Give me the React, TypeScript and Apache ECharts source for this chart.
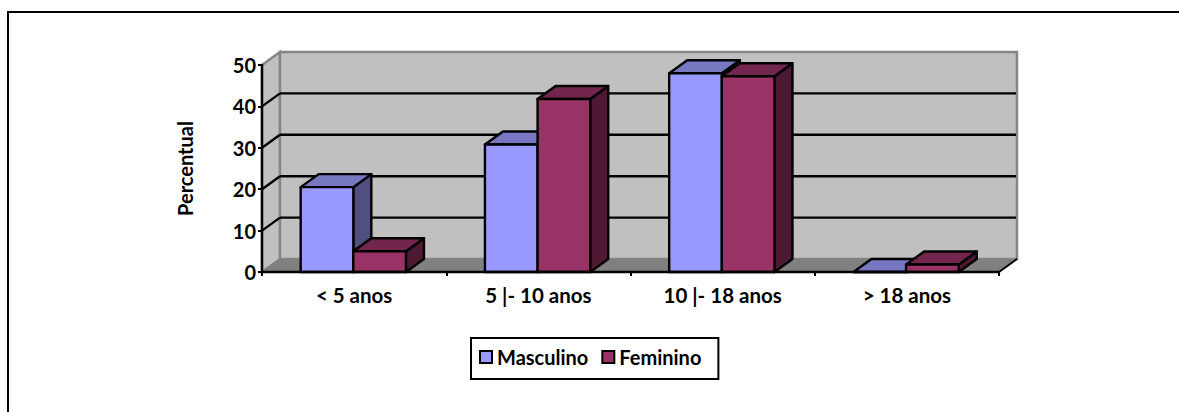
import React, { useEffect, useRef } from "react";
import * as echarts from "echarts";

const categories = ["< 5 anos", "5 |- 10 anos", "10 |- 18 anos", "> 18 anos"];
const masculino = [20.5, 30.8, 48, 0];
const feminino = [5, 41.8, 47.3, 1.8];
const yTicks = [0, 10, 20, 30, 40, 50];

const FONT = "Lato";
const DEPTH_X = 18;
const DEPTH_Y = -13;
const BAR_SHARE = 0.2857;
const BAR_NUDGE = -0.8;
const INK = 2.4;

// Back wall, side wall, floor and wall gridlines of the pseudo-3D plot box.
function renderWalls(params: any, api: any) {
  const r = params.coordSys;
  const l = r.x, t = r.y, b = r.y + r.height, e = r.x + r.width;
  const wallFill = { fill: "#c0c0c0", stroke: "#868686", lineWidth: 2.5 };
  const children: any[] = [
    {
      type: "polygon",
      shape: { points: [[l, t], [l + DEPTH_X, t + DEPTH_Y], [l + DEPTH_X, b + DEPTH_Y], [l, b]] },
      style: wallFill,
    },
    {
      type: "polygon",
      shape: { points: [[l + DEPTH_X, t + DEPTH_Y], [e + DEPTH_X, t + DEPTH_Y], [e + DEPTH_X, b + DEPTH_Y], [l + DEPTH_X, b + DEPTH_Y]] },
      style: wallFill,
    },
    {
      type: "polygon",
      shape: { points: [[l, b], [l + DEPTH_X, b + DEPTH_Y], [e + DEPTH_X, b + DEPTH_Y], [e, b]] },
      style: { fill: "#808080", stroke: "#808080", lineWidth: 1 },
    },
    {
      type: "line",
      shape: { x1: e, y1: b, x2: e + DEPTH_X, y2: b + DEPTH_Y },
      style: { stroke: "#000", lineWidth: 2 },
    },
  ];
  yTicks.forEach((v) => {
    if (v === 0 || v === 50) return;
    const y = api.coord([0, v])[1];
    children.push(
      { type: "line", shape: { x1: l, y1: y, x2: l + DEPTH_X, y2: y + DEPTH_Y }, style: { stroke: "#000", lineWidth: INK } },
      { type: "line", shape: { x1: l + DEPTH_X, y1: y + DEPTH_Y, x2: e + DEPTH_X - 1, y2: y + DEPTH_Y }, style: { stroke: "#000", lineWidth: INK } },
    );
  });
  return { type: "group", children };
}

// One extruded column: front face, top face and right side face.
function barRenderer(side: number, front: string, top: string, flank: string) {
  return (_params: any, api: any) => {
    const cat = api.value(0);
    const base = api.coord([cat, 0]);
    const head = api.coord([cat, api.value(1)]);
    const w = api.size([1, 0])[0] * BAR_SHARE;
    const x0 = base[0] + BAR_NUDGE + (side < 0 ? -w : 0);
    const x1 = x0 + w;
    const y0 = base[1];
    const y1 = head[1];
    const stroke = { stroke: "#000", lineWidth: INK, lineJoin: "round" };
    return {
      type: "group",
      children: [
        {
          type: "polygon",
          shape: { points: [[x1, y1], [x1 + DEPTH_X, y1 + DEPTH_Y], [x1 + DEPTH_X, y0 + DEPTH_Y], [x1, y0]] },
          style: { fill: flank, ...stroke },
        },
        {
          type: "polygon",
          shape: { points: [[x0, y1], [x0 + DEPTH_X, y1 + DEPTH_Y], [x1 + DEPTH_X, y1 + DEPTH_Y], [x1, y1]] },
          style: { fill: top, ...stroke },
        },
        {
          type: "polygon",
          shape: { points: [[x0, y1], [x1, y1], [x1, y0], [x0, y0]] },
          style: { fill: front, ...stroke },
        },
      ],
    };
  };
}

export default function App() {
  const ref = useRef<HTMLDivElement>(null);

  useEffect(() => {
    const chart = echarts.init(ref.current!, undefined, { renderer: "svg" });
    chart.setOption({
      animation: false,
      backgroundColor: "#fff",
      textStyle: { fontFamily: FONT },
      grid: { left: 262, top: 65, width: 737, height: 207 },
      xAxis: {
        type: "category",
        data: categories,
        z: 5,
        axisLine: { lineStyle: { color: "#000", width: 2.4 } },
        axisTick: { show: true, length: 4, lineStyle: { color: "#000", width: 2 } },
        axisLabel: { color: "#000", fontFamily: FONT, fontWeight: "bold", fontSize: 20.5, margin: 12 },
      },
      yAxis: {
        type: "value",
        min: 0,
        max: 50,
        interval: 10,
        z: 5,
        name: "Percentual",
        nameLocation: "middle",
        nameRotate: 90,
        nameGap: 67,
        nameTextStyle: { color: "#000", fontFamily: FONT, fontWeight: "bold", fontSize: 20 },
        splitLine: { show: false },
        axisLine: { show: true, lineStyle: { color: "#000", width: 2.4 } },
        axisTick: { show: true, length: 4, lineStyle: { color: "#000", width: 2 } },
        axisLabel: { color: "#000", fontFamily: FONT, fontWeight: "bold", fontSize: 20, margin: 6 },
      },
      legend: {
        left: 471,
        top: 338,
        selectedMode: false,
        data: ["Masculino", "Feminino"],
        icon: "rect",
        itemWidth: 12,
        itemHeight: 12,
        itemGap: 13,
        padding: [9, 17, 12, 8],
        borderColor: "#000",
        borderWidth: 2,
        backgroundColor: "#fff",
        itemStyle: { borderColor: "#000", borderWidth: 2 },
        textStyle: { color: "#000", fontFamily: FONT, fontWeight: "bold", fontSize: 20 },
      },
      graphic: [
        { type: "line", silent: true, shape: { x1: 8, y1: 12, x2: 8, y2: 412 }, style: { stroke: "#000", lineWidth: 2 } },
        { type: "line", silent: true, shape: { x1: 7, y1: 12, x2: 1179, y2: 12 }, style: { stroke: "#000", lineWidth: 2 } },
      ],
      series: [
        {
          type: "custom",
          name: "walls",
          renderItem: renderWalls,
          data: [[0, 0]],
          z: 1,
          silent: true,
        },
        {
          type: "custom",
          name: "Masculino",
          renderItem: barRenderer(-1, "#9999ff", "#7777c2", "#505080"),
          data: masculino.map((v, i) => [i, v]),
          itemStyle: { color: "#9999ff" },
          encode: { x: 0, y: 1 },
          z: 2,
        },
        {
          type: "custom",
          name: "Feminino",
          renderItem: barRenderer(1, "#993366", "#73264d", "#4d1933"),
          data: feminino.map((v, i) => [i, v]),
          itemStyle: { color: "#993366" },
          encode: { x: 0, y: 1 },
          z: 3,
        },
      ],
    });
    return () => chart.dispose();
  }, []);

  return (
    <div
      ref={ref}
      style={{ position: "absolute", left: 0, top: 0, width: 1179, height: 412 }}
    />
  );
}
